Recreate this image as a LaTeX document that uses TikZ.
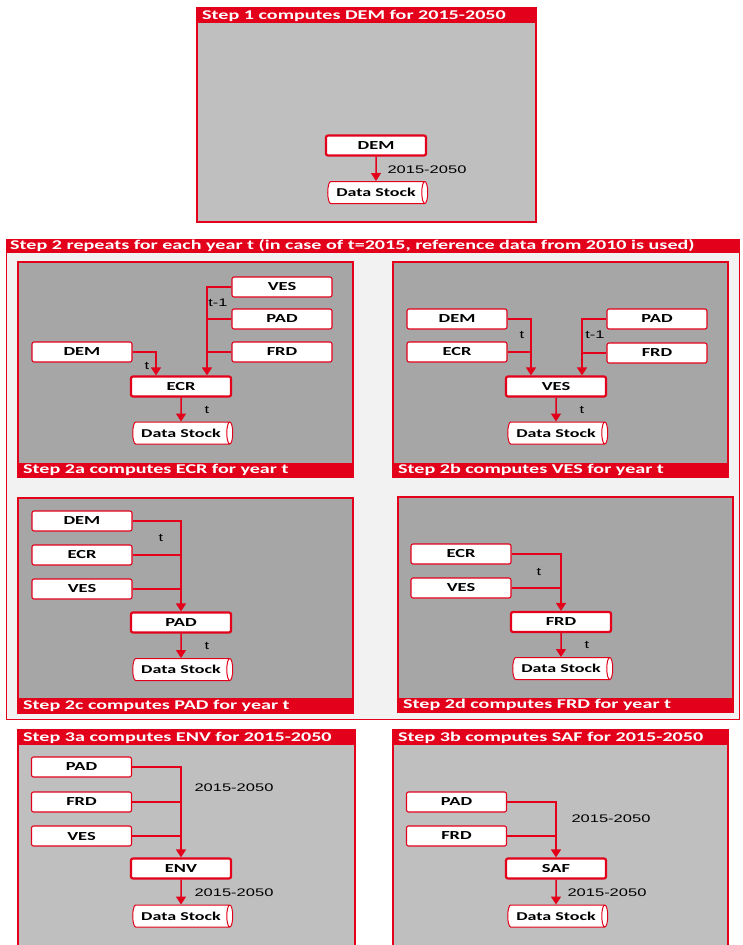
\documentclass[tikz,border=0pt]{standalone}
\usepackage{fontspec}
\setmainfont{Carlito}[FakeStretch=1.5]
\newfontfamily\numfont{Liberation Sans}[FakeStretch=1.5]
\usetikzlibrary{shapes.geometric,arrows.meta}
\definecolor{dsred}{HTML}{E2001A}
\definecolor{darkpanel}{HTML}{A6A6A6}
\definecolor{lightpanel}{HTML}{BFBFBF}
\definecolor{stepbg}{HTML}{F2F2F2}
\tikzset{
  module/.style={draw=dsred, fill=white, rounded corners=2pt, line width=1.1pt,
    minimum width=100pt, minimum height=20pt, inner sep=0pt,
    font=\bfseries\fontsize{12.3}{13}\selectfont},
  target/.style={module, line width=2.2pt},
  stock/.style={cylinder, shape border rotate=0, aspect=0.7, draw=dsred, fill=white,
    line width=1pt, minimum width=22pt, minimum height=100pt, inner sep=0pt,
    font=\bfseries\fontsize{12}{13}\selectfont},
  flow/.style={draw=dsred, line width=1.5pt},
  feed/.style={flow, -{Triangle[width=10pt,length=8pt]}},
  steplabel/.style={font=\numfont\fontsize{11}{12}\selectfont, inner sep=0pt},
  headtext/.style={text=white, anchor=west, inner sep=0pt,
    font=\bfseries\fontsize{13.4}{14}\selectfont},
  panel/.style={draw=dsred, line width=1.5pt, fill=darkpanel},
}
\begin{document}
\begin{tikzpicture}[x=1pt,y=-1pt]
  \useasboundingbox (0,0) rectangle (743,945);
  \clip (0,0) rectangle (743,945);

  \draw[panel, fill=lightpanel] (197,8) rectangle (536,222);
  \fill[dsred] (197,8) rectangle (536,23);
  \node[headtext] (head1) at (202,15.5) {Step 1 computes DEM for 2015-2050};
  \node[target] (dem1) at (376,145.5) {DEM};
  \node[stock] (stock1) at (376,192.5) {Data Stock};
  \draw[feed] (dem1) -- (stock1);
  \node[steplabel] (years1) at (427,170) {2015-2050};

  \draw[draw=dsred, line width=1pt, fill=stepbg] (6,239) rectangle (739,719);
  \fill[dsred] (6,239) rectangle (739,253);
  \node[headtext] (head2) at (10,246) {Step 2 repeats for each year t (in case of t=2015, reference data from 2010 is used)};

  \draw[panel] (18,262) rectangle (353,477);
  \fill[dsred] (18,463) rectangle (353,477);
  \node[headtext] (foot2a) at (23,470) {Step 2a computes ECR for year t};
  \node[module] (ves2a) at (282,287) {VES};
  \node[module] (pad2a) at (282,319) {PAD};
  \node[module] (frd2a) at (282,352) {FRD};
  \node[module] (dem2a) at (82,352) {DEM};
  \node[target] (ecr2a) at (181,386.5) {ECR};
  \node[stock] (stock2a) at (181,433) {Data Stock};
  \coordinate (bus2a) at (207,300);
  \coordinate (tap2a) at (156,300);
  \draw[feed] (ves2a.west) -| (bus2a |- ecr2a.north);
  \draw[flow] (pad2a.west) -- (pad2a.west -| bus2a);
  \draw[flow] (frd2a.west) -- (frd2a.west -| bus2a);
  \draw[feed] (dem2a.east) -| (tap2a |- ecr2a.north);
  \draw[feed] (ecr2a) -- (stock2a);
  \node[steplabel] (lag2a) at (218,303) {t-1};
  \node[steplabel] (now2a) at (147,366) {t};
  \node[steplabel] (out2a) at (207,410) {t};

  \draw[panel] (393,262) rectangle (728,477);
  \fill[dsred] (393,463) rectangle (728,477);
  \node[headtext] (foot2b) at (398,470) {Step 2b computes VES for year t};
  \node[module] (dem2b) at (457,319) {DEM};
  \node[module] (ecr2b) at (457,352) {ECR};
  \node[module] (pad2b) at (657,319) {PAD};
  \node[module] (frd2b) at (657,353) {FRD};
  \node[target] (ves2b) at (556,386.5) {VES};
  \node[stock] (stock2b) at (556,433) {Data Stock};
  \coordinate (tap2b) at (531,300);
  \coordinate (bus2b) at (582,300);
  \draw[feed] (dem2b.east) -| (tap2b |- ves2b.north);
  \draw[flow] (ecr2b.east) -- (ecr2b.east -| tap2b);
  \draw[feed] (pad2b.west) -| (bus2b |- ves2b.north);
  \draw[flow] (frd2b.west) -- (frd2b.west -| bus2b);
  \draw[feed] (ves2b) -- (stock2b);
  \node[steplabel] (now2b) at (522,335) {t};
  \node[steplabel] (lag2b) at (595,335) {t-1};
  \node[steplabel] (out2b) at (582,410) {t};

  \draw[panel] (18,498) rectangle (353,713);
  \fill[dsred] (18,698) rectangle (353,713);
  \node[headtext] (foot2c) at (23,705.5) {Step 2c computes PAD for year t};
  \node[module] (dem2c) at (82,521) {DEM};
  \node[module] (ecr2c) at (82,555) {ECR};
  \node[module] (ves2c) at (82,589) {VES};
  \node[target] (pad2c) at (181,622.5) {PAD};
  \node[stock] (stock2c) at (181,669.5) {Data Stock};
  \draw[feed] (dem2c.east) -| (pad2c.north);
  \draw[flow] (ecr2c.east) -- (ecr2c.east -| pad2c.north);
  \draw[flow] (ves2c.east) -- (ves2c.east -| pad2c.north);
  \draw[feed] (pad2c) -- (stock2c);
  \node[steplabel] (now2c) at (161,538) {t};
  \node[steplabel] (out2c) at (207,646) {t};

  \draw[panel] (398,497) rectangle (733,712);
  \fill[dsred] (398,698) rectangle (733,712);
  \node[headtext] (foot2d) at (403,705) {Step 2d computes FRD for year t};
  \node[module] (ecr2d) at (461,554) {ECR};
  \node[module] (ves2d) at (461,588) {VES};
  \node[target] (frd2d) at (561,622) {FRD};
  \node[stock] (stock2d) at (561,668.5) {Data Stock};
  \draw[feed] (ecr2d.east) -| (frd2d.north);
  \draw[flow] (ves2d.east) -- (ves2d.east -| frd2d.north);
  \draw[feed] (frd2d) -- (stock2d);
  \node[steplabel] (now2d) at (539,572) {t};
  \node[steplabel] (out2d) at (587,645) {t};

  \draw[panel, fill=lightpanel] (18,730) rectangle (355,955);
  \fill[dsred] (18,730) rectangle (355,745);
  \node[headtext] (head3a) at (23,737.5) {Step 3a computes ENV for 2015-2050};
  \node[module] (pad3a) at (81.5,767) {PAD};
  \node[module] (frd3a) at (81.5,802) {FRD};
  \node[module] (ves3a) at (81.5,836) {VES};
  \node[target] (env3a) at (181,868.5) {ENV};
  \node[stock] (stock3a) at (181,916) {Data Stock};
  \draw[feed] (pad3a.east) -| (env3a.north);
  \draw[flow] (frd3a.east) -- (frd3a.east -| env3a.north);
  \draw[flow] (ves3a.east) -- (ves3a.east -| env3a.north);
  \draw[feed] (env3a) -- (stock3a);
  \node[steplabel] (in3a) at (234,788) {2015-2050};
  \node[steplabel] (out3a) at (234,893) {2015-2050};

  \draw[panel, fill=lightpanel] (393,730) rectangle (728,955);
  \fill[dsred] (393,730) rectangle (728,745);
  \node[headtext] (head3b) at (398,737.5) {Step 3b computes SAF for 2015-2050};
  \node[module] (pad3b) at (456.5,802) {PAD};
  \node[module] (frd3b) at (456.5,836) {FRD};
  \node[target] (saf3b) at (556,868.5) {SAF};
  \node[stock] (stock3b) at (556,916) {Data Stock};
  \draw[feed] (pad3b.east) -| (saf3b.north);
  \draw[flow] (frd3b.east) -- (frd3b.east -| saf3b.north);
  \draw[feed] (saf3b) -- (stock3b);
  \node[steplabel] (in3b) at (611,819) {2015-2050};
  \node[steplabel] (out3b) at (607,893) {2015-2050};
\end{tikzpicture}
\end{document}
